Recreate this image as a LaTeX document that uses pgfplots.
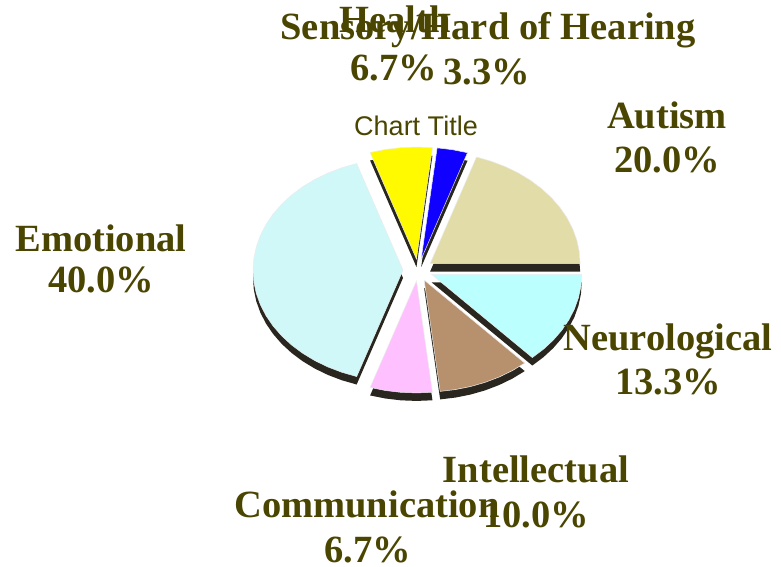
\documentclass[border=0pt]{standalone}
\usepackage{pgfplots}
\pgfplotsset{compat=1.18}
\usepackage{fontspec}
\setmainfont{Liberation Serif}
\newfontfamily\arialfont{Liberation Sans}
\definecolor{lbl}{RGB}{74,69,0}
\definecolor{cAut}{RGB}{226,220,168}
\definecolor{cNeu}{RGB}{188,255,255}
\definecolor{cInt}{RGB}{183,145,110}
\definecolor{cCom}{RGB}{255,192,255}
\definecolor{cEmo}{RGB}{208,248,248}
\definecolor{cHea}{RGB}{255,250,0}
\definecolor{cHoh}{RGB}{15,0,255}
\definecolor{side}{RGB}{40,38,30}
\begin{document}
\begin{tikzpicture}
\begin{axis}[
  width=781pt, height=567pt, scale only axis, hide axis,
  xmin=-2.78667, xmax=2.42, ymin=-2.65179, ymax=2.41071,
  clip=false]
% ---- sides (3D depth) ----
% Autism 20.0%  (72 -> 0), mid 36
\addplot[data cs=polar, fill=side, draw=none, xshift={15*cos(36)*1pt}, yshift={(11*sin(36)-8)*1pt}] coordinates {(0,0) (72,1) (66,1) (60,1) (54,1) (48,1) (42,1) (36,1) (30,1) (24,1) (18,1) (12,1) (6,1) (0,1)} --cycle;
% Neurological 13.3%  (0 -> -47.88)
\addplot[data cs=polar, fill=side, draw=none, xshift={15*cos(-23.94)*1pt}, yshift={(11*sin(-23.94)-8)*1pt}] coordinates {(0,0) (0,1) (-6,1) (-12,1) (-18,1) (-24,1) (-30,1) (-36,1) (-42,1) (-47.88,1)} --cycle;
% Intellectual 10.0%  (-47.88 -> -83.88)
\addplot[data cs=polar, fill=side, draw=none, xshift={15*cos(-65.88)*1pt}, yshift={(11*sin(-65.88)-8)*1pt}] coordinates {(0,0) (-47.88,1) (-54,1) (-60,1) (-66,1) (-72,1) (-78,1) (-83.88,1)} --cycle;
% Communication 6.7%  (-83.88 -> -108)
\addplot[data cs=polar, fill=side, draw=none, xshift={15*cos(-95.94)*1pt}, yshift={(11*sin(-95.94)-8)*1pt}] coordinates {(0,0) (-83.88,1) (-90,1) (-96,1) (-102,1) (-108,1)} --cycle;
% Emotional 40.0%  (-108 -> -252)
\addplot[data cs=polar, fill=side, draw=none, xshift={15*cos(-180)*1pt}, yshift={(11*sin(-180)-8)*1pt}] coordinates {(0,0) (-108,1) (-114,1) (-120,1) (-126,1) (-132,1) (-138,1) (-144,1) (-150,1) (-156,1) (-162,1) (-168,1) (-174,1) (-180,1) (-186,1) (-192,1) (-198,1) (-204,1) (-210,1) (-216,1) (-222,1) (-228,1) (-234,1) (-240,1) (-246,1) (-252,1)} --cycle;
% Health 6.7%  (-252 -> -276.12)
\addplot[data cs=polar, fill=side, draw=none, xshift={15*cos(-264.06)*1pt}, yshift={(11*sin(-264.06)-8)*1pt}] coordinates {(0,0) (-252,1) (-258,1) (-264,1) (-270,1) (-276.12,1)} --cycle;
% Sensory/Hard of Hearing 3.3%  (-276.12 -> -288)
\addplot[data cs=polar, fill=side, draw=none, xshift={15*cos(-282.06)*1pt}, yshift={(11*sin(-282.06)-8)*1pt}] coordinates {(0,0) (-276.12,1) (-282,1) (-288,1)} --cycle;
% ---- tops ----
\addplot[data cs=polar, fill=cAut, draw=white!85!gray, line width=0.5pt, xshift={15*cos(36)*1pt}, yshift={11*sin(36)*1pt}] coordinates {(0,0) (72,1) (66,1) (60,1) (54,1) (48,1) (42,1) (36,1) (30,1) (24,1) (18,1) (12,1) (6,1) (0,1)} --cycle;
\addplot[data cs=polar, fill=cNeu, draw=white!85!gray, line width=0.5pt, xshift={15*cos(-23.94)*1pt}, yshift={11*sin(-23.94)*1pt}] coordinates {(0,0) (0,1) (-6,1) (-12,1) (-18,1) (-24,1) (-30,1) (-36,1) (-42,1) (-47.88,1)} --cycle;
\addplot[data cs=polar, fill=cInt, draw=white!85!gray, line width=0.5pt, xshift={15*cos(-65.88)*1pt}, yshift={11*sin(-65.88)*1pt}] coordinates {(0,0) (-47.88,1) (-54,1) (-60,1) (-66,1) (-72,1) (-78,1) (-83.88,1)} --cycle;
\addplot[data cs=polar, fill=cCom, draw=white!85!gray, line width=0.5pt, xshift={15*cos(-95.94)*1pt}, yshift={11*sin(-95.94)*1pt}] coordinates {(0,0) (-83.88,1) (-90,1) (-96,1) (-102,1) (-108,1)} --cycle;
\addplot[data cs=polar, fill=cEmo, draw=white!85!gray, line width=0.5pt, xshift={15*cos(-180)*1pt}, yshift={11*sin(-180)*1pt}] coordinates {(0,0) (-108,1) (-114,1) (-120,1) (-126,1) (-132,1) (-138,1) (-144,1) (-150,1) (-156,1) (-162,1) (-168,1) (-174,1) (-180,1) (-186,1) (-192,1) (-198,1) (-204,1) (-210,1) (-216,1) (-222,1) (-228,1) (-234,1) (-240,1) (-246,1) (-252,1)} --cycle;
\addplot[data cs=polar, fill=cHea, draw=white!85!gray, line width=0.5pt, xshift={15*cos(-264.06)*1pt}, yshift={11*sin(-264.06)*1pt}] coordinates {(0,0) (-252,1) (-258,1) (-264,1) (-270,1) (-276.12,1)} --cycle;
\addplot[data cs=polar, fill=cHoh, draw=white!85!gray, line width=0.5pt, xshift={15*cos(-282.06)*1pt}, yshift={11*sin(-282.06)*1pt}] coordinates {(0,0) (-276.12,1) (-282,1) (-288,1)} --cycle;
\end{axis}
\begin{scope}[every node/.style={text=lbl, anchor=base, inner sep=0pt, font=\fontsize{38.5}{44}\selectfont\bfseries}]
\node at (416pt,{(567-136)*1pt}) {\arialfont\mdseries\fontsize{27}{30}\selectfont Chart Title};
\node at (395pt,{(567-33)*1pt}) {Health};
\node at (394pt,{(567-81)*1pt}) {6.7\%};
\node at (488pt,{(567-40)*1pt}) {Sensory/Hard of Hearing};
\node at (487pt,{(567-85)*1pt}) {3.3\%};
\node at (667pt,{(567-129)*1pt}) {Autism};
\node at (667pt,{(567-173)*1pt}) {20.0\%};
\node at (101pt,{(567-252)*1pt}) {Emotional};
\node at (101pt,{(567-293)*1pt}) {40.0\%};
\node at (668pt,{(567-351)*1pt}) {Neurological};
\node at (668pt,{(567-395)*1pt}) {13.3\%};
\node at (536pt,{(567-483)*1pt}) {Intellectual};
\node at (536pt,{(567-528)*1pt}) {10.0\%};
\node at (367pt,{(567-518)*1pt}) {Communication};
\node at (368pt,{(567-562)*1pt}) {6.7\%};
\end{scope}
\pgfresetboundingbox
\path (0,0) rectangle (781pt,567pt);
\end{tikzpicture}
\end{document}
